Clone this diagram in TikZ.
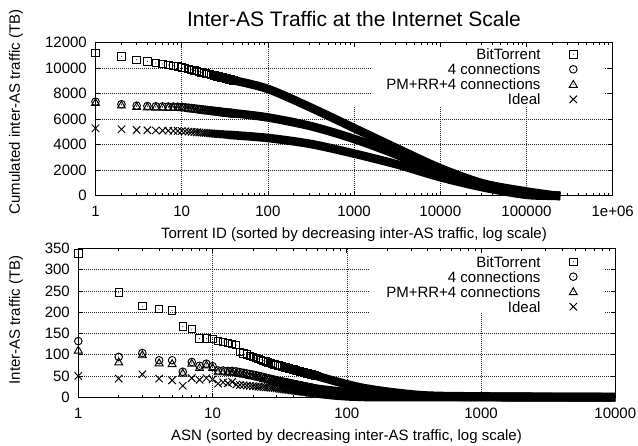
\documentclass[tikz,border=0pt]{standalone}
\usepackage{fontspec}
\setmainfont{Liberation Sans}
\tikzset{
  mk/.style={line width=0.95pt},
  sq/.pic={\draw[mk] (-3.7pt,-3.7pt) rectangle (3.7pt,3.7pt); \fill (0pt,0pt) circle (0.5pt);},
  ci/.pic={\draw[mk] (0pt,0pt) circle (3.8pt); \fill (0pt,0pt) circle (0.5pt);},
  tr/.pic={\draw[mk] (0pt,3.9pt) -- (-4pt,-3pt) -- (4pt,-3pt) -- cycle; \fill (0pt,0pt) circle (0.5pt);},
  cr/.pic={\draw[mk] (-3.7pt,-3.7pt) -- (3.7pt,3.7pt) (-3.7pt,3.7pt) -- (3.7pt,-3.7pt);},
  gridline/.style={line width=0.5pt, dash pattern=on 0.6pt off 1.4pt, black!85},
  bandtop/.style={line width=8.6pt, line cap=rect, line join=round},
  bandbot/.style={line width=8.6pt, line cap=butt, line join=round},
  plotframe/.style={line width=0.8pt},
  tk/.style={line width=0.7pt},
  lbl/.style={font=\fontsize{15}{18}\selectfont, inner sep=0pt},
}
% #1 pic, #2 n from, #3 n to, #4 n1, #5 v1, #6 n2, #7 v2
\newcommand\mkseg[7]{%
  \foreach \n in {#2,...,#3}{%
    \pgfmathsetmacro\lx{ln(\n)/ln(10)}%
    \pgfmathsetmacro\vv{#5+(#7-#5)*(ln(\n)-ln(#4))/(ln(#6)-ln(#4))}%
    \path (\lx,\vv) pic{#1};
  }}
\newcommand\mklist[2]{%
  \foreach \n/\v in {#2}{%
    \pgfmathsetmacro\lx{ln(\n)/ln(10)}%
    \path (\lx,\v) pic{#1};
  }}
\begin{document}
\begin{tikzpicture}[x=1pt,y=1pt]
\useasboundingbox (0,0) rectangle (638,445);
\fill[white] (0,0) rectangle (638,445);
\node[font=\fontsize{21}{25}\selectfont, anchor=base, inner sep=0pt] (title) at (354,418) {Inter-AS Traffic at the Internet Scale};

% ================= TOP PLOT =================
\begin{scope}[shift={(95.5pt,249.3pt)}, x=86.2pt, y=0.01275pt]
  \foreach \v in {2000,4000,6000} \draw[gridline] (0,\v) -- (6,\v);
  \foreach \v in {8000,10000} \draw[gridline] (0,\v) -- (3.184,\v) (5.91,\v) -- (6,\v);
  \foreach \l in {1,2} \draw[gridline] (\l,0) -- (\l,12000);
  \foreach \l in {3,4,5} \draw[gridline] (\l,0) -- (\l,6957);
  % bands
  \draw[bandtop] plot[smooth] coordinates {(1.6,9048) (2,8370) (2.5,6900) (3,5300) (3.5,3700) (4,2150) (4.5,950) (5,330) (5.342,0)};
  \draw[bandtop] plot[smooth] coordinates {(1.6,6467) (2,6133) (2.5,5450) (3,4450) (3.5,3200) (4,1750) (4.5,800) (5,210) (5.342,0)};
  \draw[bandtop] plot[smooth] coordinates {(1.6,4743) (2,4525) (2.5,4050) (3,3300) (3.5,2450) (4,1450) (4.5,650) (5,70) (5.342,0)};
  % markers
  \mklist{sq}{1/11200,2/10920,3/10660,4/10530,5/10400,6/10320,7/10250,8/10180,9/10120,10/10065}
  \mkseg{sq}{11}{40}{10}{10065}{100}{8370}
  \mklist{ci}{1/7370,2/7170,3/7060,4/7030,5/7010,6/7000,7/6990,8/6985,9/6975,10/6968}
  \mkseg{ci}{11}{40}{10}{6968}{100}{6133}
  \mklist{tr}{1/7310,2/7110,3/7000,4/6970,5/6950,6/6940,7/6930,8/6925,9/6915,10/6908}
  \mkseg{tr}{11}{40}{10}{6908}{100}{6073}
  \mklist{cr}{1/5286,2/5208,3/5153,4/5130,5/5115,6/5105,7/5095,8/5085,9/5078,10/5070}
  \mkseg{cr}{11}{40}{10}{5070}{100}{4525}
  % frame and ticks
  \draw[plotframe] (0,0) rectangle (6,12000);
  \foreach \l in {0,...,6}{
    \draw[tk] (\l,0) -- ++(0,4.5pt);
    \draw[tk] (\l,12000) -- ++(0,-4.5pt);
  }
  \foreach \d in {0,...,5}{
    \foreach \k in {2,...,9}{
      \pgfmathsetmacro\lt{\d+ln(\k)/ln(10)}
      \draw[tk] (\lt,0) -- ++(0,2.5pt);
      \draw[tk] (\lt,12000) -- ++(0,-2.5pt);
    }
  }
  \foreach \v in {0,2000,...,12000}{
    \draw[tk] (0,\v) -- ++(4.5pt,0);
    \draw[tk] (6,\v) -- ++(-4.5pt,0);
  }
\end{scope}
% top tick labels
\foreach \l/\t in {0/1,1/10,2/100,3/1000,4/10000,5/100000,6/1e+06}{
  \node[lbl, anchor=base] (txa\l) at ({95.5+86.2*\l},228.6) {\t};
}
\foreach \v in {0,2000,4000,6000,8000,10000,12000}{
  \node[lbl, anchor=east] (tya\v) at (87,{249.3+0.01275*\v}) {\v};
}
\node[lbl, rotate=90] (ylabtop) at (16,333) {Cumulated inter-AS traffic (TB)};
\node[lbl, anchor=base] (xlabtop) at (354,206.5) {Torrent ID (sorted by decreasing inter-AS traffic, log scale)};
% top legend
\node[lbl, anchor=base east] (lta) at (540.7,385.3) {BitTorrent};
\node[lbl, anchor=base east] (ltb) at (540.7,370.3) {4 connections};
\node[lbl, anchor=base east] (ltc) at (540.7,355.3) {PM+RR+4 connections};
\node[lbl, anchor=base east] (ltd) at (540.7,340.3) {Ideal};
\path (573.3,390.7) pic{sq};
\path (573.3,375.7) pic{ci};
\path (573.3,360.7) pic{tr};
\path (573.3,345.7) pic{cr};

% ================= BOTTOM PLOT =================
\begin{scope}[shift={(78.3pt,47.7pt)}, x=134.25pt, y=0.4257pt]
  \foreach \v in {50,100,150} \draw[gridline] (0,\v) -- (4,\v);
  \foreach \v in {200,250,300} \draw[gridline] (0,\v) -- (2.165,\v) (3.923,\v) -- (4,\v);
  \foreach \l in {1,2} \draw[gridline] (\l,0) -- (\l,350);
  \draw[gridline] (3,0) -- (3,198);
  % bands
  \draw[bandbot] plot[smooth, tension=0.5] coordinates {(1.778,50) (2.12,22) (2.55,5) (3,2) (3.5,1) (4,0.5)};
  \draw[bandbot] plot[smooth, tension=0.5] coordinates {(1.778,20) (2,12) (2.3,5) (2.7,2) (3,1) (4,0.3)};
  \draw[bandbot] plot[smooth, tension=0.5] coordinates {(1.778,18) (2,10) (2.3,4) (3,1) (4,0.3)};
  \draw[bandbot] plot[smooth, tension=0.5] coordinates {(1.778,9) (2.1,1) (3,0.3) (4,0)};
  % markers
  \mklist{sq}{1/338,2/246,3/214,4/207,5/204,6/166,7/160,8/138,9/138,10/137,11/132,12/130,13/128,14/125,15/123,16/106}
  \mkseg{sq}{17}{27}{16}{106}{27}{80}
  \mkseg{sq}{28}{60}{27}{80}{60}{50}
  \mklist{ci}{1/132,2/95,3/104,4/87,5/87,6/60,7/83,8/74,9/79,10/73,11/63,12/63,13/62,14/62,15/61}
  \mkseg{ci}{16}{21}{15}{61}{21}{52}
  \mkseg{ci}{22}{30}{21}{52}{30}{40}
  \mkseg{ci}{31}{60}{30}{40}{60}{20}
  \mklist{tr}{1/111,2/83,3/100,4/81,5/79,6/57,7/80,8/70,9/76,10/70,11/60,12/60,13/59,14/59,15/58}
  \mkseg{tr}{16}{21}{15}{58}{21}{49}
  \mkseg{tr}{22}{30}{21}{49}{30}{37}
  \mkseg{tr}{31}{60}{30}{37}{60}{18}
  \mklist{cr}{1/50,2/44,3/54,4/44,5/40,6/27,7/45,8/41,9/45,10/42,11/32,12/35,13/33,14/36,15/30}
  \mkseg{cr}{16}{30}{15}{30}{30}{21}
  \mkseg{cr}{31}{60}{30}{21}{60}{9}
  \path (2.124,0) pic{cr};
  % frame and ticks
  \draw[plotframe] (0,0) rectangle (4,350);
  \foreach \l in {0,...,4}{
    \draw[tk] (\l,0) -- ++(0,4.5pt);
    \draw[tk] (\l,350) -- ++(0,-4.5pt);
  }
  \foreach \d in {0,...,3}{
    \foreach \k in {2,...,9}{
      \pgfmathsetmacro\lt{\d+ln(\k)/ln(10)}
      \draw[tk] (\lt,0) -- ++(0,2.5pt);
      \draw[tk] (\lt,350) -- ++(0,-2.5pt);
    }
  }
  \foreach \v in {0,50,...,350}{
    \draw[tk] (0,\v) -- ++(4.5pt,0);
    \draw[tk] (4,\v) -- ++(-4.5pt,0);
  }
\end{scope}
\foreach \l/\t in {0/1,1/10,2/100,3/1000,4/10000}{
  \node[lbl, anchor=base] (txb\l) at ({78.3+134.25*\l},26.6) {\t};
}
\foreach \v in {0,50,100,150,200,250,300,350}{
  \node[lbl, anchor=east] (tyb\v) at (70,{47.7+0.4257*\v}) {\v};
}
\node[lbl, rotate=90] (ylabbot) at (16,125) {Inter-AS traffic (TB)};
\node[lbl, anchor=base] (xlabbot) at (346.5,5) {ASN (sorted by decreasing inter-AS traffic, log scale)};
% bottom legend
\node[lbl, anchor=base east] (lba) at (540.7,177.9) {BitTorrent};
\node[lbl, anchor=base east] (lbb) at (540.7,162.9) {4 connections};
\node[lbl, anchor=base east] (lbc) at (540.7,147.9) {PM+RR+4 connections};
\node[lbl, anchor=base east] (lbd) at (540.7,132.9) {Ideal};
\path (573.3,183.3) pic{sq};
\path (573.3,168.3) pic{ci};
\path (573.3,153.3) pic{tr};
\path (573.3,138.3) pic{cr};
\end{tikzpicture}
\end{document}
